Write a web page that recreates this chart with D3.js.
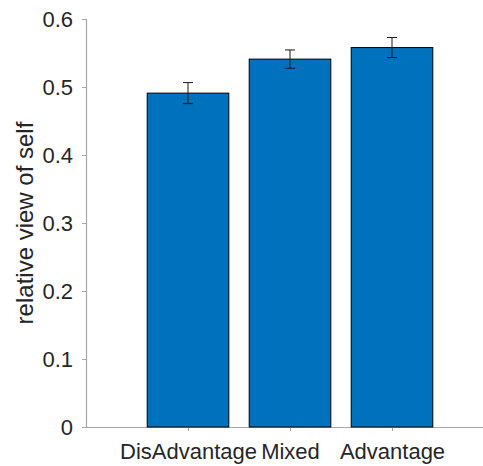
<!DOCTYPE html>
<html>
<head>
<meta charset="utf-8">
<script src="https://cdn.jsdelivr.net/npm/d3@7"></script>
<style>
  body { margin: 0; background: #fff; }
  text { font-family: Arial, "Liberation Sans", sans-serif; fill: #262626; }
</style>
</head>
<body>
<div id="chart"></div>
<script>
// Data
const categories = ["DisAdvantage", "Mixed", "Advantage"];
const means = [0.491, 0.541, 0.558];
const errors = [0.0155, 0.0135, 0.0148];
const yTicks = [0, 0.1, 0.2, 0.3, 0.4, 0.5, 0.6];

const width = 483;
const height = 466;
const plotLeft = 86;
const plotTop = 19;
const plotBottom = 427;

const svg = d3
  .select("#chart")
  .append("svg")
  .attr("width", width)
  .attr("height", height);

// Scales: categories sit at positions 1..3 on a 0..4 axis
const x = d3.scaleLinear().domain([0, 4]).range([plotLeft, plotLeft + 408]);
const y = d3.scaleLinear().domain([0, 0.6]).range([plotBottom, plotTop]);
const barWidth = (x(1) - x(0)) * 0.8;

// Axes
const yAxis = svg
  .append("g")
  .attr("transform", `translate(${plotLeft},0)`)
  .call(d3.axisLeft(y).tickValues(yTicks).tickSize(4).tickPadding(9).tickFormat(d3.format("~g")));

const xAxis = svg
  .append("g")
  .attr("transform", `translate(0,${plotBottom})`)
  .call(
    d3.axisBottom(x)
      .tickValues([1, 2, 3])
      .tickSize(4)
      .tickPadding(12)
      .tickFormat((d) => categories[d - 1]),
  );

[xAxis, yAxis].forEach((ax) => {
  ax.select(".domain").attr("stroke", "#a6a6a6").attr("stroke-width", 1.2);
  ax.selectAll(".tick line").attr("stroke", "#a6a6a6");
  ax.selectAll(".tick text").style("font-size", "22px").attr("fill", "#262626");
});
xAxis.select(".domain").attr("d", `M${plotLeft},0.5H${x(4)}`);
yAxis.select(".domain").attr("d", `M0.5,${plotBottom}V${plotTop}`);

// Bars
svg
  .append("g")
  .selectAll("rect")
  .data(means)
  .enter()
  .append("rect")
  .attr("x", (d, i) => x(i + 1) - barWidth / 2)
  .attr("y", (d) => y(d))
  .attr("width", barWidth)
  .attr("height", (d) => y(0) - y(d))
  .attr("fill", "#0072bd")
  .attr("stroke", "#000")
  .attr("stroke-width", 1);

// Error bars
const err = svg
  .append("g")
  .attr("stroke", "#1a1a1a")
  .attr("stroke-width", 1)
  .selectAll("g")
  .data(means)
  .enter()
  .append("g");

err
  .append("line")
  .attr("x1", (d, i) => x(i + 1))
  .attr("x2", (d, i) => x(i + 1))
  .attr("y1", (d, i) => y(d - errors[i]))
  .attr("y2", (d, i) => y(d + errors[i]));

[-1, 1].forEach((s) => {
  err
    .append("line")
    .attr("x1", (d, i) => x(i + 1) - 5)
    .attr("x2", (d, i) => x(i + 1) + 5)
    .attr("y1", (d, i) => y(d + s * errors[i]))
    .attr("y2", (d, i) => y(d + s * errors[i]));
});

// Y label
svg
  .append("text")
  .attr("transform", `translate(33,${(plotTop + plotBottom) / 2}) rotate(-90)`)
  .attr("text-anchor", "middle")
  .style("font-size", "24px")
  .text("relative view of self");
</script>
</body>
</html>
